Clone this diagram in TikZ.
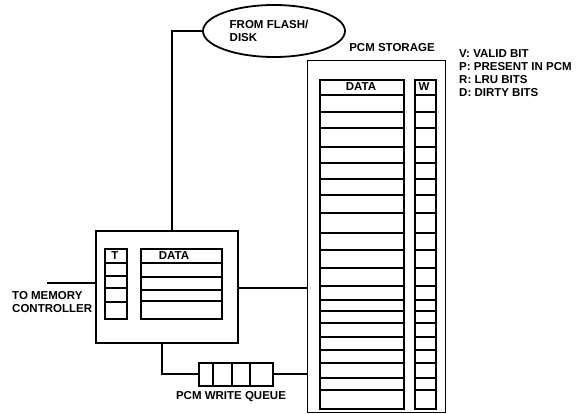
\documentclass[tikz,border=0pt]{standalone}
\usepackage{fontspec}
\setmainfont{Liberation Sans}
\usetikzlibrary{shapes.geometric}

\tikzstyle{cell}=[draw, line width=1.8pt, inner sep=0pt, anchor=north west]
\tikzstyle{caption}=[font=\bfseries\fontsize{11.5}{13}\selectfont, inner sep=0pt]
\tikzstyle{wire}=[line width=1.8pt]

\begin{document}
\begin{tikzpicture}[x=1pt, y=-1pt]
      \useasboundingbox (0,0) rectangle (579,414);

      % source and main blocks
      \node[ellipse, draw, line width=1.8pt, minimum width=142pt, minimum height=52pt, inner sep=0pt] (flash) at (274,31) {};
      \node[caption, align=left] (flashtext) at (269,31) {FROM FLASH/\\DISK};
      \node[cell, minimum width=142pt, minimum height=112pt] (cache) at (95,230) {};
      \node[cell, line width=1.2pt, minimum width=138pt, minimum height=352pt] (pcm) at (307,60) {};
      \node[caption] (pcmtext) at (392,48) {PCM STORAGE};

      % cache contents
      \node[cell, minimum width=22pt, minimum height=70pt] (tag) at (104,248) {};
      \node[cell, minimum width=81pt, minimum height=70pt] (cdata) at (140,248) {};
      \node[caption] (tagtext) at (115,256) {T};
      \node[caption] (cdatatext) at (174,256) {DATA};
      \foreach \y in {263,276,288,302}
        \draw[wire] (tag.west |- 0,\y) -- (tag.east |- 0,\y);
      \foreach \y in {263,277,290,301}
        \draw[wire] (cdata.west |- 0,\y) -- (cdata.east |- 0,\y);

      % pcm contents
      \node[cell, minimum width=84pt, minimum height=329pt] (pdata) at (319,79) {};
      \node[cell, minimum width=21pt, minimum height=329pt] (wbit) at (414,79) {};
      \node[caption] (pdatatext) at (361,87) {DATA};
      \node[caption] (wbittext) at (424,87) {W};
      \foreach \y in {95,112,128,147,163,179,195,213,233,250,268,286,300,311,323,337,350,363,378,390} {
        \draw[wire] (pdata.west |- 0,\y) -- (pdata.east |- 0,\y);
        \draw[wire] (wbit.west |- 0,\y) -- (wbit.east |- 0,\y);
      }

      % write queue
      \node[cell, minimum width=74pt, minimum height=23pt] (queue) at (198,362) {};
      \foreach \x in {213,232,250}
        \draw[wire] (queue.north -| \x,0) -- (queue.south -| \x,0);
      \node[caption] (queuetext) at (231,397) {PCM WRITE QUEUE};

      % memory controller side
      \coordinate (mc) at (47,283);
      \node[caption, align=left, anchor=west] (mctext) at (12,302) {TO MEMORY\\CONTROLLER};

      % legend
      \node[caption, align=left, anchor=north west] (legend) at (459,49) {V: VALID BIT\\P: PRESENT IN PCM\\R: LRU BITS\\D: DIRTY BITS};

      % connectors
      \draw[wire] (flash.west) -| (cache.north -| 172,0);
      \draw[wire] (mc) -- (mc -| cache.west);
      \draw[wire] (cache.east |- 0,288) -- (pcm.west |- 0,288);
      \draw[wire] (cache.south -| 162,0) |- (queue.west);
      \draw[wire] (queue.east) -- (queue.east -| pcm.west);
    \end{tikzpicture}
\end{document}
